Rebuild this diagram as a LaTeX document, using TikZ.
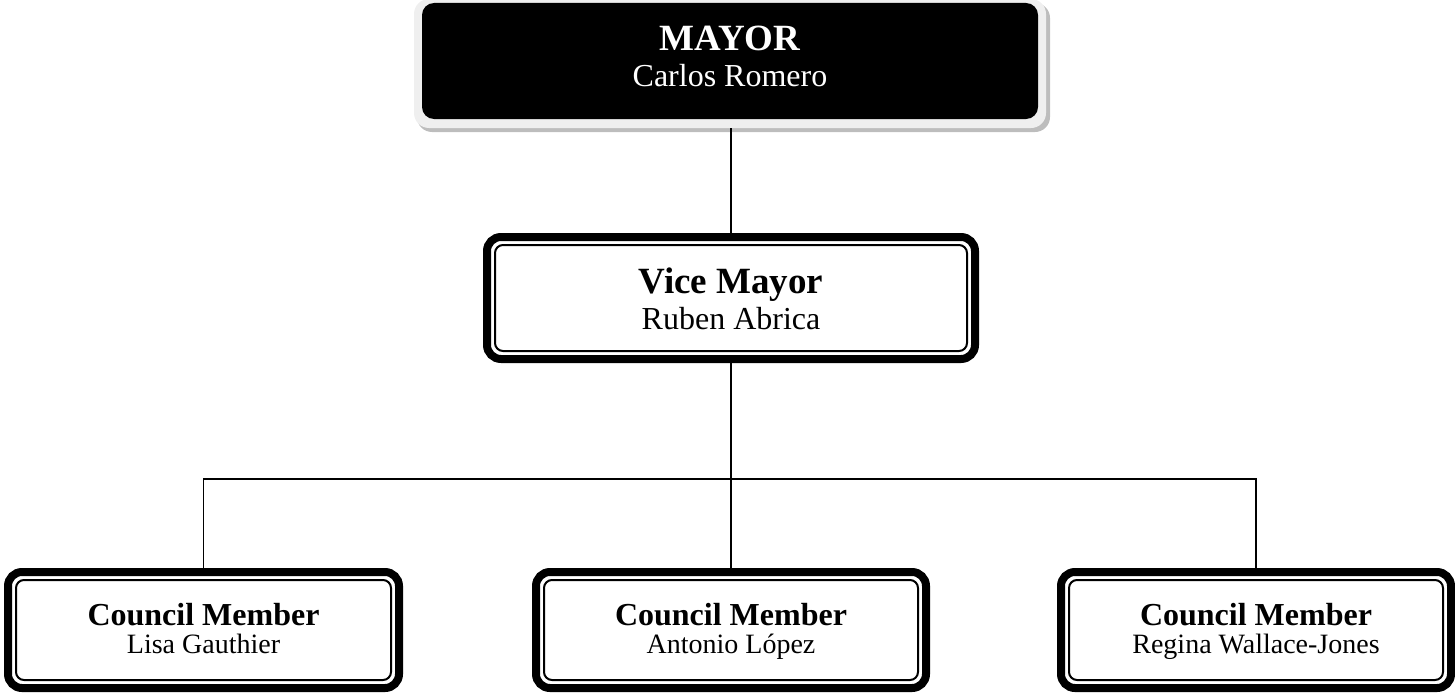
\documentclass[tikz,border=0pt]{standalone}
\usepackage{fontspec}
\setmainfont{Liberation Serif}
\usetikzlibrary{calc}
\definecolor{lightrim}{HTML}{EFEFEF}
\definecolor{shadowrim}{HTML}{BDBDBD}
\tikzset{
  framebox/.style={draw=black, fill=white, line width=8pt, rounded corners=14pt,
    inner sep=0pt, outer sep=0pt, minimum height=#1},
  mayorbox/.style={fill=black, rounded corners=12pt, inner sep=0pt, outer sep=0pt,
    minimum width=616pt, minimum height=116pt},
  innerline/.style={draw=black, line width=2pt, rounded corners=8pt},
  conn/.style={draw=black, line width=1.8pt},
  headA/.style={anchor=base, font=\fontsize{37}{40}\selectfont\bfseries},
  subA/.style={anchor=base, font=\fontsize{32}{36}\selectfont},
  headB/.style={anchor=base, font=\fontsize{32}{36}\selectfont\bfseries},
  subB/.style={anchor=base, font=\fontsize{28}{32}\selectfont},
}
\begin{document}
\begin{tikzpicture}[x=1pt,y=-1pt]
\useasboundingbox (0,0) rectangle (1455,693);
% mayor rim and shadow
\fill[shadowrim, rounded corners=15pt] (417,3) rectangle (1050,132);
\fill[lightrim, rounded corners=15pt] (414,-1) rectangle (1046,128);
\node[mayorbox] (mayor) at (730,61) {};
\node[headA, text=white] (mayorT) at (730,51) {MAYOR};
\node[subA, text=white] (mayorN) at (730,86) {Carlos Romero};

% vice mayor
\node[framebox=122pt, minimum width=488pt] (vice) at (731,298) {};
\draw[innerline] ($(vice.south west)+(8pt,8pt)$) rectangle ($(vice.north east)+(-8pt,-8pt)$);
\node[headA] (viceT) at (731,293) {Vice Mayor};
\node[subA] (viceN) at (731,329) {Ruben Abrica};

% council members
\node[framebox=116pt, minimum width=391pt] (c1) at (203.5,630) {};
\node[framebox=116pt, minimum width=390pt] (c2) at (731,630) {};
\node[framebox=116pt, minimum width=390pt] (c3) at (1256,630) {};
\foreach \n in {c1,c2,c3}{
  \draw[innerline] ($(\n.south west)+(8pt,8pt)$) rectangle ($(\n.north east)+(-8pt,-8pt)$);
}
\node[headB] (c1T) at (203.5,625) {Council Member};
\node[subB] (c1N) at (203.5,653) {Lisa Gauthier};
\node[headB] (c2T) at (731,625) {Council Member};
\node[subB] (c2N) at (731,653) {Antonio López};
\node[headB] (c3T) at (1256,625) {Council Member};
\node[subB] (c3N) at (1256,653) {Regina Wallace-Jones};

% connectors
\coordinate (bus) at (731,479);
\draw[conn] (731,128) -- (vice.north);
\draw[conn] (vice.south) -- (bus);
\draw[conn] (bus) -- (c2.north);
\draw[conn] (c1.north) |- (bus);
\draw[conn] (c3.north) |- (bus);
\end{tikzpicture}
\end{document}
